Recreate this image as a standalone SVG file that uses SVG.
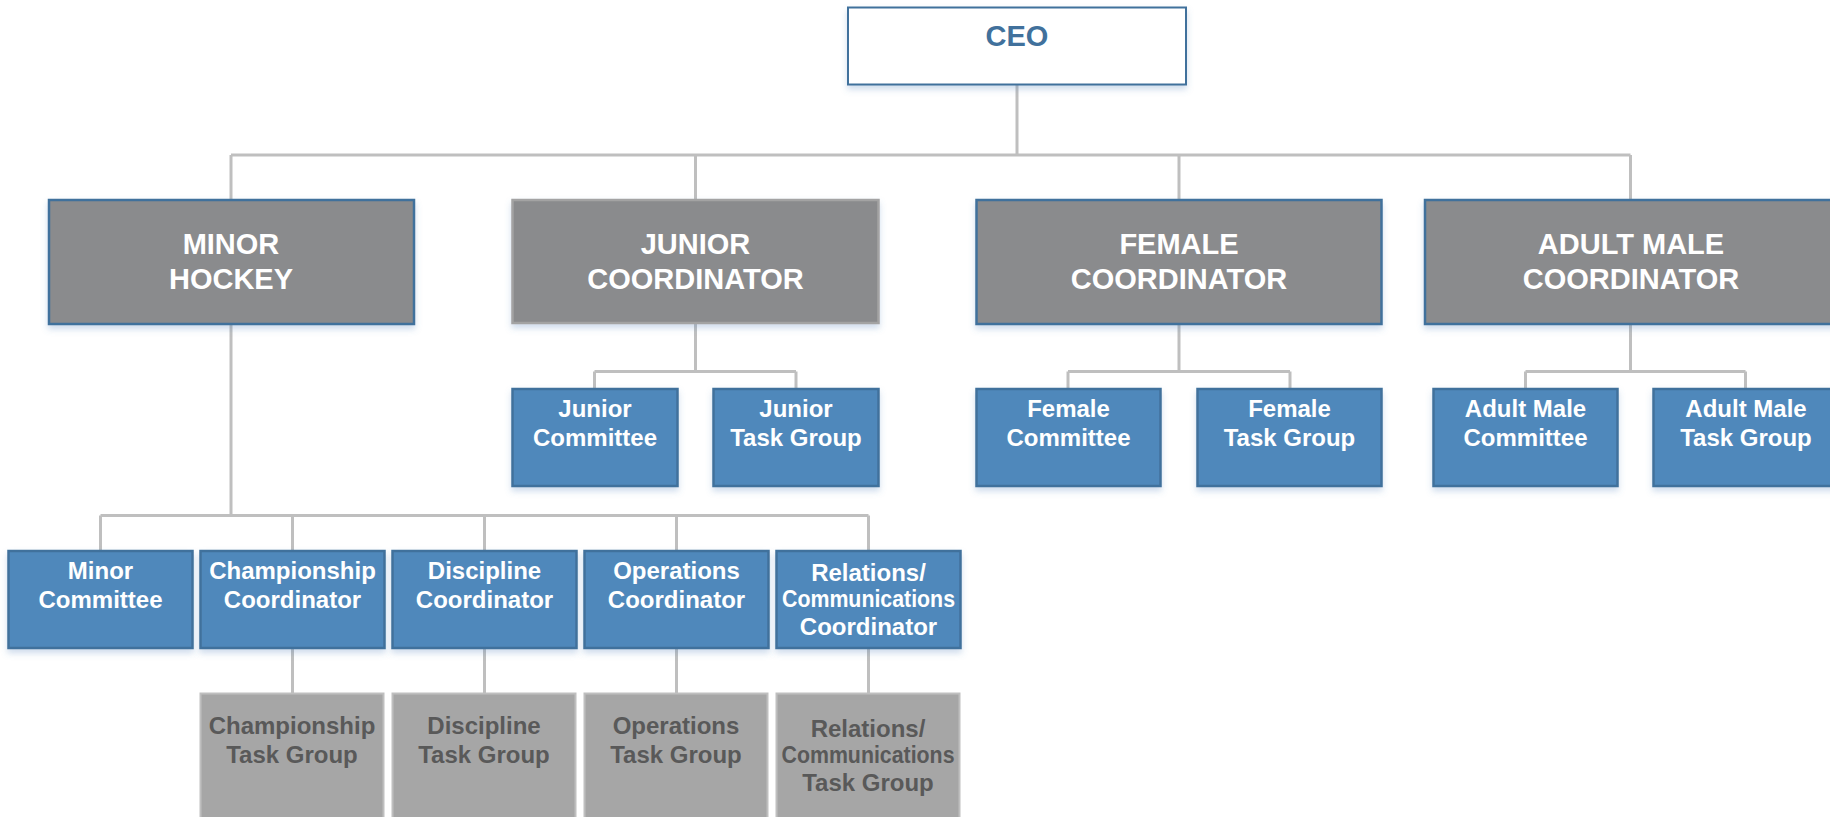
<svg xmlns="http://www.w3.org/2000/svg" width="1830" height="817" viewBox="0 0 1830 817">
<defs>
<filter id="sh" x="-10%" y="-20%" width="120%" height="150%">
<feDropShadow dx="0" dy="4" stdDeviation="3" flood-color="#4f81bd" flood-opacity="0.28"/>
</filter>
<style>
text{font-family:"Liberation Sans",Arial,sans-serif;font-weight:bold;text-anchor:middle}
.ceo rect{fill:#ffffff;stroke:#41719c;stroke-width:2}
.ceo text{fill:#41719c;font-size:29px}
.l2 rect{fill:#8a8b8d;stroke:#41719c;stroke-width:2.5}
.l2 text{fill:#ffffff;font-size:29px}
.l3 rect{fill:#4f88bb;stroke:#41719c;stroke-width:2.5}
.l3 text{fill:#ffffff;font-size:24px}
.tg rect{fill:#a6a6a6;stroke:#bfbfbf;stroke-width:2}
.tg text{fill:#595959;font-size:24px}
.conn path{fill:none;stroke:#bfbfbf;stroke-width:3}
</style>
</defs>
<rect width="1830" height="817" fill="#ffffff"/>
<g class="conn" id="connectors">
<path d="M1017 84V155M231 155H1630.5M231 155V200M695.5 155V200M1179 155V200M1630.5 155V200"/>
<path d="M231 324V515.5M100.5 515.5H868.5M100.5 515.5V551M292.5 515.5V551M484.5 515.5V551M676.5 515.5V551M868.5 515.5V551"/>
<path d="M695.5 323V371.5M594.5 371.5H796M594.5 371.5V389M796 371.5V389"/>
<path d="M1179 324V371.5M1068 371.5H1290M1068 371.5V389M1290 371.5V389"/>
<path d="M1630.5 324V371.5M1525.5 371.5H1745.5M1525.5 371.5V389M1745.5 371.5V389"/>
<path d="M292.5 648V693.5M484.5 648V693.5M676.5 648V693.5M868.5 648V693.5"/>
</g>
<g id="ceo" class="ceo"><rect x="848" y="7.5" width="338" height="77" filter="url(#sh)"/><text x="1017" y="46">CEO</text></g>
<g id="minor-hockey" class="l2"><rect x="49" y="200" width="365" height="124" filter="url(#sh)"/><text x="231" y="254">MINOR</text><text x="231" y="289">HOCKEY</text></g>
<g id="junior-coordinator" class="l2"><rect x="512.5" y="200" width="366" height="123" filter="url(#sh)" style="stroke:#a3a3a3"/><text x="695.5" y="254">JUNIOR</text><text x="695.5" y="289">COORDINATOR</text></g>
<g id="female-coordinator" class="l2"><rect x="976.5" y="200" width="405" height="124" filter="url(#sh)"/><text x="1179" y="254">FEMALE</text><text x="1179" y="289">COORDINATOR</text></g>
<g id="adult-male-coordinator" class="l2"><rect x="1425" y="200" width="412" height="124" filter="url(#sh)"/><text x="1631" y="254">ADULT MALE</text><text x="1631" y="289">COORDINATOR</text></g>
<g id="junior-committee" class="l3"><rect x="512.5" y="389" width="165" height="97" filter="url(#sh)"/><text x="595" y="417">Junior</text><text x="595" y="446">Committee</text></g>
<g id="junior-task-group" class="l3"><rect x="713.5" y="389" width="165" height="97" filter="url(#sh)"/><text x="796" y="417">Junior</text><text x="796" y="446">Task Group</text></g>
<g id="female-committee" class="l3"><rect x="976.5" y="389" width="184" height="97" filter="url(#sh)"/><text x="1068.5" y="417">Female</text><text x="1068.5" y="446">Committee</text></g>
<g id="female-task-group" class="l3"><rect x="1197.5" y="389" width="184" height="97" filter="url(#sh)"/><text x="1289.5" y="417">Female</text><text x="1289.5" y="446">Task Group</text></g>
<g id="adult-male-committee" class="l3"><rect x="1433.5" y="389" width="184" height="97" filter="url(#sh)"/><text x="1525.5" y="417">Adult Male</text><text x="1525.5" y="446">Committee</text></g>
<g id="adult-male-task-group" class="l3"><rect x="1653.5" y="389" width="184" height="97" filter="url(#sh)"/><text x="1746" y="417">Adult Male</text><text x="1746" y="446">Task Group</text></g>
<g id="minor-committee" class="l3"><rect x="8.5" y="551" width="184" height="97" filter="url(#sh)"/><text x="100.5" y="579">Minor</text><text x="100.5" y="608">Committee</text></g>
<g id="championship-coordinator" class="l3"><rect x="200.5" y="551" width="184" height="97" filter="url(#sh)"/><text x="292.5" y="579">Championship</text><text x="292.5" y="608">Coordinator</text></g>
<g id="discipline-coordinator" class="l3"><rect x="392.5" y="551" width="184" height="97" filter="url(#sh)"/><text x="484.5" y="579">Discipline</text><text x="484.5" y="608">Coordinator</text></g>
<g id="operations-coordinator" class="l3"><rect x="584.5" y="551" width="184" height="97" filter="url(#sh)"/><text x="676.5" y="579">Operations</text><text x="676.5" y="608">Coordinator</text></g>
<g id="relations-coordinator" class="l3"><rect x="776.5" y="551" width="184" height="97" filter="url(#sh)"/><text x="868.5" y="581">Relations/</text><text x="868.5" y="607" textLength="173" lengthAdjust="spacingAndGlyphs">Communications</text><text x="868.5" y="635">Coordinator</text></g>
<g id="championship-task-group" class="tg"><rect x="200.5" y="693.5" width="183" height="130"/><text x="292" y="734">Championship</text><text x="292" y="763">Task Group</text></g>
<g id="discipline-task-group" class="tg"><rect x="392.5" y="693.5" width="183" height="130"/><text x="484" y="734">Discipline</text><text x="484" y="763">Task Group</text></g>
<g id="operations-task-group" class="tg"><rect x="584.5" y="693.5" width="183" height="130"/><text x="676" y="734">Operations</text><text x="676" y="763">Task Group</text></g>
<g id="relations-task-group" class="tg"><rect x="776.5" y="693.5" width="183" height="130"/><text x="868" y="737">Relations/</text><text x="868" y="763" textLength="173" lengthAdjust="spacingAndGlyphs">Communications</text><text x="868" y="791">Task Group</text></g>
</svg>
